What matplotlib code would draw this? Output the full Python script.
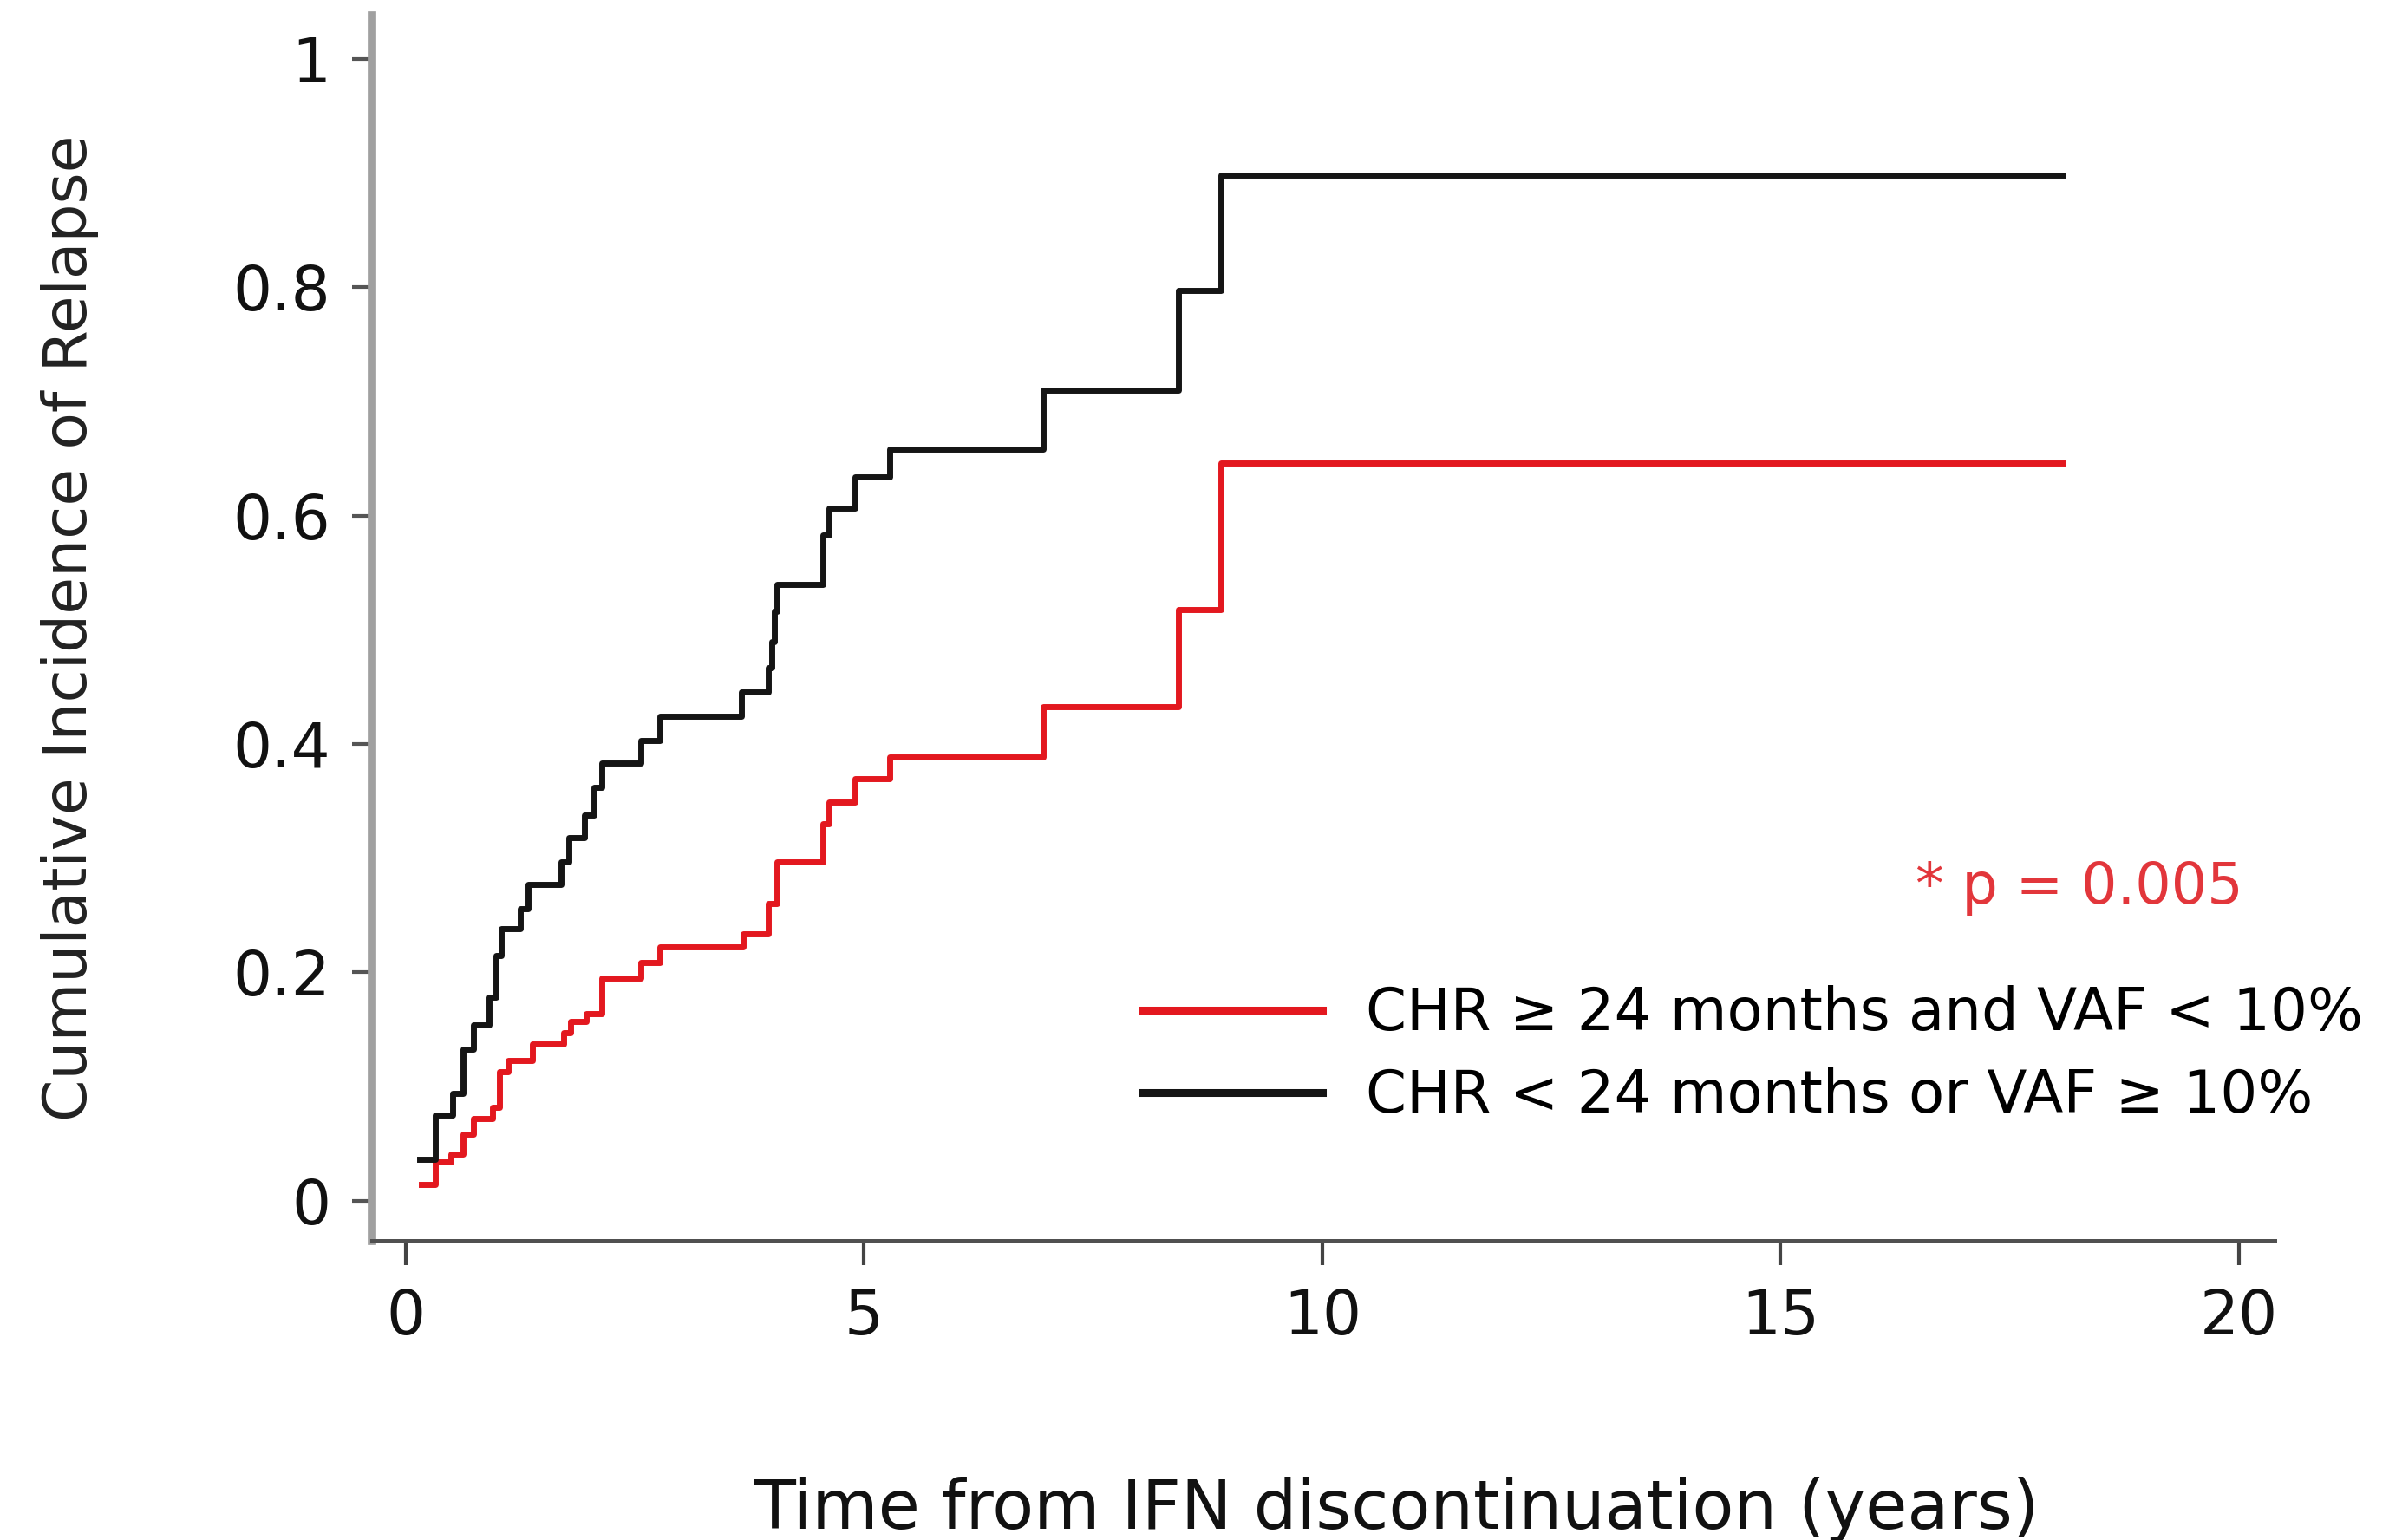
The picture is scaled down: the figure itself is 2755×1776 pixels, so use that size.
import matplotlib
matplotlib.use("Agg")
import matplotlib.pyplot as plt

# step data (time in years, cumulative incidence)
black_t = [0.15, 0.32, 0.51, 0.62, 0.74, 0.91, 0.98, 1.04, 1.25, 1.33, 1.69, 1.78, 1.95, 2.05, 2.14,
           2.56, 2.77, 3.66, 3.95, 3.99, 4.02, 4.05, 4.55, 4.62, 4.90, 5.28, 6.95, 8.43, 8.89, 18.08]
black_v = [0.036, 0.075, 0.094, 0.133, 0.154, 0.178, 0.215, 0.238, 0.256, 0.277, 0.297, 0.318, 0.338, 0.362, 0.383,
           0.403, 0.424, 0.446, 0.467, 0.490, 0.516, 0.540, 0.583, 0.607, 0.634, 0.658, 0.710, 0.797, 0.898, 0.898]

red_t = [0.17, 0.32, 0.49, 0.62, 0.74, 0.95, 1.02, 1.12, 1.38, 1.72, 1.80, 1.97, 2.14,
         2.56, 2.77, 3.68, 3.95, 4.05, 4.55, 4.62, 4.90, 5.28, 6.95, 8.43, 8.89, 18.08]
red_v = [0.014, 0.034, 0.041, 0.058, 0.072, 0.082, 0.113, 0.123, 0.137, 0.147, 0.157, 0.164, 0.195,
         0.209, 0.222, 0.234, 0.260, 0.297, 0.330, 0.349, 0.370, 0.389, 0.433, 0.518, 0.646, 0.646]

labels = ["CHR \u2265 24 months and VAF < 10%", "CHR < 24 months or VAF \u2265 10%"]
xticks = [0, 5, 10, 15, 20]
yticks = [0, 0.2, 0.4, 0.6, 0.8, 1]
ytick_labels = ["0", "0.2", "0.4", "0.6", "0.8", "1"]

RED = "#e3181f"
BLACK = "#151515"

plt.rcParams['font.family'] = ['DejaVu Sans']

fig = plt.figure(figsize=(27.55, 17.76), dpi=100)
ax = fig.add_axes([0.1557, 0.1943, 0.7964, 0.7956])

ax.plot(red_t, red_v, drawstyle='steps-post', color=RED, lw=5)
ax.plot(black_t, black_v, drawstyle='steps-post', color=BLACK, lw=5)

ax.set_xlim(-0.37, 20.39)
ax.set_ylim(-0.035, 1.038)
ax.set_xticks(xticks)
ax.set_yticks(yticks)
ax.set_yticklabels(ytick_labels)

for s in ['top', 'right']:
    ax.spines[s].set_visible(False)
ax.spines['left'].set_color('#a0a0a0')
ax.spines['left'].set_linewidth(7)
ax.spines['bottom'].set_color('#505050')
ax.spines['bottom'].set_linewidth(3.6)

ax.tick_params(axis='y', length=16.5, width=3, color='#555555', pad=18, labelsize=51, labelcolor='#111111')
ax.tick_params(axis='x', length=20, width=3, color='#444444', pad=19, labelsize=51, labelcolor='#111111')

ax.set_ylabel("Cumulative Incidence of Relapse", fontsize=50, color='#222222')
ax.yaxis.set_label_coords(-0.1436, 0.5)
ax.set_xlabel("Time from IFN discontinuation (years)", fontsize=56.5, color='#111111', va='top')
ax.xaxis.set_label_coords(0.5387, -0.1925)

# legend
h_red = plt.Line2D([], [], color=RED, lw=6.5)
h_black = plt.Line2D([], [], color=BLACK, lw=6.5)
ax.legend([h_red, h_black], labels, loc='center left', bbox_to_anchor=(0.4784, 0.3149),
          bbox_transform=fig.transFigure, frameon=False, fontsize=48.5, handlelength=3.07,
          handletextpad=0.75, labelspacing=0.43, borderpad=0, borderaxespad=0)

fig.text(0.8704, 0.4234, "* p = 0.005", color='#e2363b', fontsize=47, ha='center', va='center')

fig.savefig("out.png", dpi=100)
